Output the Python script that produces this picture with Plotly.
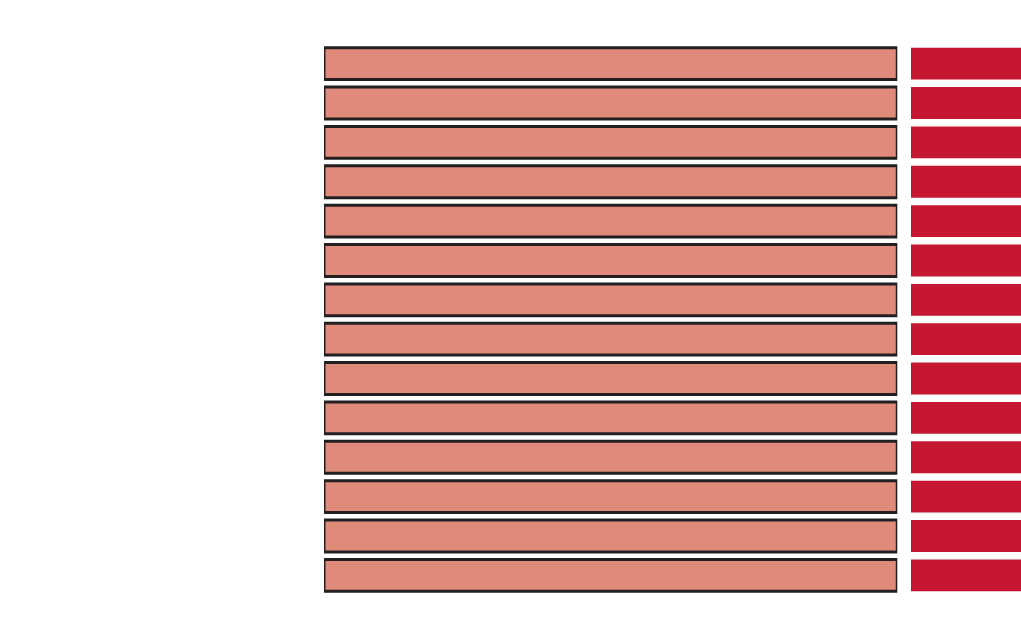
import plotly.graph_objects as go
from plotly.subplots import make_subplots

categories = [f"Item {i}" for i in range(1, 15)]
main_values = [100] * 14
side_values = [1] * 14

fig = make_subplots(rows=1, cols=2, shared_yaxes=True)

fig.add_trace(go.Bar(
    y=categories, x=main_values, orientation="h",
    marker=dict(color="#E08A7C", line=dict(color="#231F20", width=3)),
    showlegend=False, hoverinfo="skip"), row=1, col=1)

fig.add_trace(go.Bar(
    y=categories, x=side_values, orientation="h",
    marker=dict(color="#C61732", line=dict(width=0)),
    showlegend=False, hoverinfo="skip"), row=1, col=2)

fig.update_layout(
    width=1021, height=638,
    margin=dict(l=324, r=0, t=44, b=43),
    paper_bgcolor="white", plot_bgcolor="white",
    bargap=0.19,
    xaxis=dict(domain=[0, 0.8225]),
    xaxis2=dict(domain=[0.842, 1]),
)
fig.update_xaxes(visible=False, showgrid=False, zeroline=False)
fig.update_xaxes(range=[0, 100], row=1, col=1)
fig.update_xaxes(range=[0, 1], row=1, col=2)
fig.update_yaxes(visible=False, showgrid=False, zeroline=False, autorange="reversed")

fig.write_html(
    "out.html",
    config={"displayModeBar": False},
    post_script="document.body.style.margin='0';document.body.style.overflow='hidden';",
)
